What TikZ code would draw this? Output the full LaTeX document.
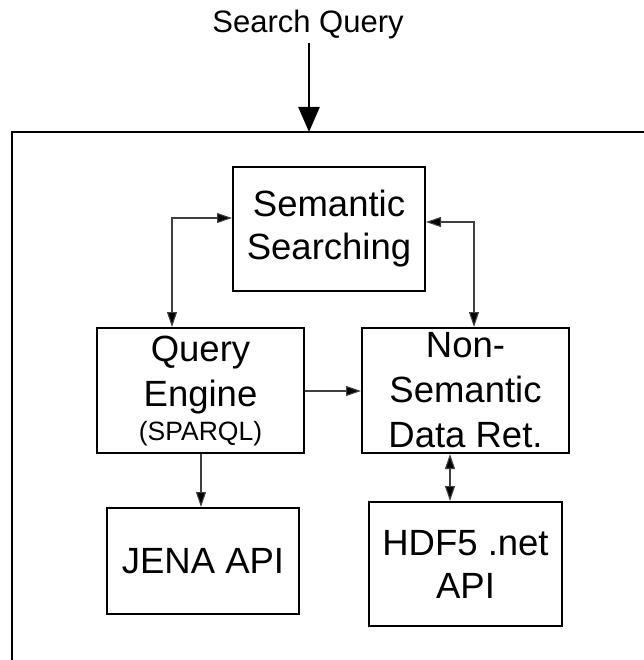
\documentclass[tikz,border=0pt]{standalone}
\usepackage{fontspec}
\setmainfont{Liberation Sans}
\usetikzlibrary{arrows.meta}
\begin{document}
\begin{tikzpicture}[x=1pt,y=-1pt,
  blk/.style={draw=black,line width=2pt,rectangle,inner sep=0pt,align=center,
    font=\fontsize{36.5}{43}\selectfont},
  tip/.style={Triangle[length=15pt,width=10pt,fill=black]},
  link/.style={draw=black!75,line width=1.1pt,-{Triangle[length=15pt,width=10pt,fill=black]}},
  dlink/.style={draw=black!75,line width=1.1pt,
    {Triangle[length=15pt,width=10pt,fill=black]}-{Triangle[length=15pt,width=10pt,fill=black]}}]
\useasboundingbox (0,0) rectangle (643,660);

% outer frame, open to the right and below
\coordinate (fbot) at (12,662);
\coordinate (fcorner) at (12,132);
\coordinate (fright) at (645,132);
\draw[line width=2.2pt] (fbot) -- (fcorner) -- (fright);

% incoming query
\node[anchor=base,font=\fontsize{31}{36}\selectfont,inner sep=0pt] (sq) at (308,33) {Search Query};
\coordinate (qstart) at (309,43);
\coordinate (qin) at (309,132);
\draw[line width=2.5pt,-{Triangle[length=25pt,width=21pt]}] (qstart) -- (qin);

% component boxes
\node[blk,minimum width=192pt,minimum height=124pt] (sem) at (329,229) {Semantic\\Searching};
\node[blk,minimum width=207pt,minimum height=125pt] (qe) at (200.5,390.5)
  {Query\\[2pt]Engine\\[-9pt]{\fontsize{26.5}{30}\selectfont (SPARQL)}};
\node[blk,minimum width=207pt,minimum height=125pt] (nsd) at (465.5,390.5)
  {Non-\\[2pt]Semantic\\[2pt]Data Ret.};
\node[blk,minimum width=192pt,minimum height=106pt] (jena) at (203,561) {JENA API};
\node[blk,minimum width=193pt,minimum height=124pt] (hdf) at (465.5,564) {HDF5 .net\\API};

% connectors
\draw[dlink] (qe.north -| 172,0) |- (sem.west |- 0,218);
\draw[dlink] (sem.east |- 0,222) -| (nsd.north -| 474,0);
\draw[link] (qe.east |- 0,391) -- (nsd.west |- 0,391);
\draw[link] (qe.south -| 201,0) -- (jena.north -| 201,0);
\draw[dlink] (nsd.south -| 450,0) -- (hdf.north -| 450,0);
\end{tikzpicture}
\end{document}
